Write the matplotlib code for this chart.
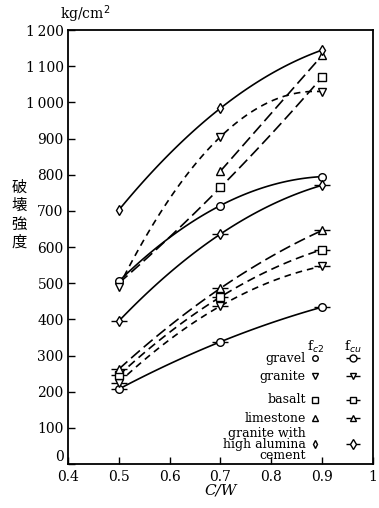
import numpy as np
import matplotlib.pyplot as plt

plt.rcParams['font.family'] = ['DejaVu Serif', 'Noto Sans CJK JP']

# C/W values
cw = [0.5, 0.7, 0.9]

# fc2 (cylinder strength), kg/cm2
fc2_gravel = [505, 715, 795]
fc2_granite = [490, 905, 1030]
fc2_basalt = [500, 765, 1070]
fc2_limestone_x = [0.7, 0.9]
fc2_limestone = [810, 1130]
fc2_alumina = [702, 984, 1145]

# fcu (cube strength), kg/cm2
fcu_gravel = [207, 338, 434]
fcu_granite = [225, 437, 547]
fcu_basalt = [245, 462, 593]
fcu_limestone = [262, 486, 646]
fcu_alumina = [395, 636, 771]

names = ['gravel', 'granite', 'basalt', 'limestone',
         'granite with\nhigh alumina\ncement']
markers = ['o', 'v', 's', '^', 'd']

fig = plt.figure(figsize=(3.79, 5.08), dpi=100)
ax = fig.add_axes([0.179, 0.0866, 0.805, 0.854])

long_dash = (0, (7, 3))
short_dash = (0, (4, 3))


def curve(x, y, ls):
    # smooth fitted curve through the measured points
    xs = np.linspace(min(x), max(x), 60)
    deg = 2 if len(x) > 2 else 1
    p = np.polyfit(x, y, deg)
    ax.plot(xs, np.polyval(p, xs), color='black', lw=1.2, linestyle=ls)


def pts(x, y, m, tick=False, ms=5.5):
    if tick:
        ax.plot(x, y, linestyle='none', marker='_', ms=11, mew=1.0, color='black')
    ax.plot(x, y, linestyle='none', marker=m, ms=ms, mfc='white',
            mec='black', mew=1.0)


# fc2 curves
curve(cw, fc2_gravel, '-')
curve(cw, fc2_granite, short_dash)
curve(cw, fc2_basalt, long_dash)
curve(fc2_limestone_x, fc2_limestone, long_dash)
curve(cw, fc2_alumina, '-')
pts(cw, fc2_gravel, 'o')
pts(cw, fc2_granite, 'v')
pts(cw[1:], fc2_basalt[1:], 's')
pts(fc2_limestone_x, fc2_limestone, '^')
pts(cw, fc2_alumina, 'd')

# fcu curves
curve(cw, fcu_gravel, '-')
curve(cw, fcu_granite, short_dash)
curve(cw, fcu_basalt, (0, (5, 3)))
curve(cw, fcu_limestone, long_dash)
curve(cw, fcu_alumina, '-')
pts(cw, fcu_gravel, 'o', True)
pts(cw, fcu_granite, 'v', True)
pts(cw, fcu_basalt, 's', True)
pts(cw, fcu_limestone, '^', True)
pts(cw, fcu_alumina, 'd', True)

# legend drawn by hand
leg_y = [293, 243, 178, 127, 54]
ax.text(0.887, 325, 'f$_{c2}$', fontsize=9.5, ha='center', va='center')
ax.text(0.960, 325, 'f$_{cu}$', fontsize=9.5, ha='center', va='center')
for name, m, y in zip(names, markers, leg_y):
    ax.text(0.868, y, name, fontsize=9, ha='right', va='center',
            linespacing=0.78, zorder=5)
    ax.plot([0.887], [y], linestyle='none', marker=m, ms=4, mfc='white',
            mec='black', mew=1.0)
    ax.plot([0.960], [y], linestyle='none', marker='_', ms=10, mew=1.0, color='black')
    ax.plot([0.960], [y], linestyle='none', marker=m, ms=5, mfc='white',
            mec='black', mew=1.0)

ax.set_xlim(0.4, 1.0)
ax.set_ylim(0, 1200)
ax.set_xticks([0.4, 0.5, 0.6, 0.7, 0.8, 0.9, 1.0])
ax.set_xticklabels(['0.4', '0.5', '0.6', '0.7', '0.8', '0.9', '1'])
ax.set_yticks(range(0, 1201, 100))
ax.set_yticklabels(['0', '100', '200', '300', '400', '500', '600', '700',
                    '800', '900', '1\u2009000', '1\u2009100', '1\u2009200'])
ax.get_yticklabels()[0].set_va('bottom')
ax.tick_params(direction='in', length=5, width=1, labelsize=10, pad=2)
ax.tick_params(axis='x', pad=4)
ax.tick_params(axis='y', pad=3)
for s in ax.spines.values():
    s.set_linewidth(1.3)

ax.set_xlabel('C/W', fontsize=11, style='italic', labelpad=0)
fig.text(0.05, 0.577, '破\n壊\n強\n度', fontsize=11, ha='center', va='center',
         family=['Noto Sans CJK JP'], linespacing=1.1)
fig.text(0.225, 0.972, 'kg/cm$^2$', fontsize=10, ha='center', va='center')

fig.savefig('out.png', dpi=100)
